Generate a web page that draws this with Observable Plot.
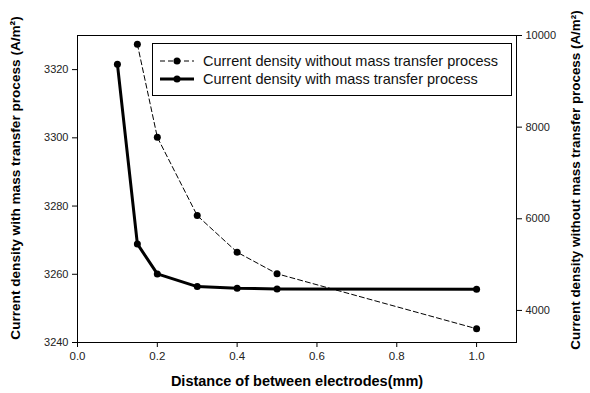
<!DOCTYPE html>
<html>
<head>
<meta charset="utf-8">
<script src="https://cdn.jsdelivr.net/npm/d3@7"></script>
<script src="https://cdn.jsdelivr.net/npm/@observablehq/plot@0.6"></script>
<style>
  body { margin: 0; background: #fff; }
  #wrap { position: relative; width: 590px; height: 393px; font-family: "Liberation Sans", Arial, sans-serif; }
  #legend { position: absolute; left: 152px; top: 43px; width: 358px; height: 51px; border: 1px solid #000; background: #fff; }
  .row { position: absolute; left: 0; height: 18px; display: flex; align-items: center; font-size: 14.5px; color: #111; white-space: nowrap; }
  .row svg { margin-left: 7px; margin-right: 9px; }
</style>
</head>
<body>
<div id="wrap"></div>
<script>
const xWith = [0.1, 0.15, 0.2, 0.3, 0.4, 0.5, 1.0];
const withMT = [3321.6, 3268.9, 3260.1, 3256.4, 3255.9, 3255.7, 3255.6];
const xWithout = [0.15, 0.2, 0.3, 0.4, 0.5, 1.0];
const withoutMT = [9810, 7780, 6070, 5270, 4800, 3600];
const leftTicks = [3240, 3260, 3280, 3300, 3320];
const rightTicks = [4000, 6000, 8000, 10000];
const xTicks = [0, 0.2, 0.4, 0.6, 0.8, 1.0];
const legendLabels = ["Current density without mass transfer process", "Current density with mass transfer process"];
const xTitle = "Distance of between electrodes(mm)";
const yLeftTitle = "Current density with mass transfer process (A/m²)";
const yRightTitle = "Current density without mass transfer process (A/m²)";

const leftDomain = [3240, 3330];
const rightDomain = [3300, 10000];
const toLeft = d3.scaleLinear(rightDomain, leftDomain);

const solid = xWith.map((x, i) => ({x, y: withMT[i]}));
const dashed = xWithout.map((x, i) => ({x, y: toLeft(withoutMT[i])}));

const font = "Liberation Sans, Arial, sans-serif";

const chart = Plot.plot({
  width: 590,
  height: 393,
  marginLeft: 77,
  marginRight: 74,
  marginTop: 35,
  marginBottom: 51,
  style: {fontFamily: font, background: "#fff"},
  x: {domain: [0, 1.1]},
  y: {domain: leftDomain},
  marks: [
    Plot.frame({stroke: "#000", strokeWidth: 1}),
    Plot.axisX(xTicks, {tickSize: 5, tickPadding: 4, fontSize: 11.5, fill: "#222", tickFormat: d3.format(".1f"), label: null}),
    Plot.axisY(leftTicks, {anchor: "left", tickSize: 5, tickPadding: 4, fontSize: 11, fill: "#222", tickFormat: d => String(d), label: null}),
    Plot.axisY(rightTicks.map(v => toLeft(v)), {anchor: "right", tickSize: 5, tickPadding: 4, fontSize: 11, fill: "#222", tickFormat: d => String(Math.round(toLeft.invert(d))), label: null}),
    Plot.line(dashed, {x: "x", y: "y", stroke: "#000", strokeWidth: 1, strokeDasharray: "5,3"}),
    Plot.dot(dashed, {x: "x", y: "y", r: 3.5, fill: "#000"}),
    Plot.line(solid, {x: "x", y: "y", stroke: "#000", strokeWidth: 3}),
    Plot.dot(solid, {x: "x", y: "y", r: 3.5, fill: "#000"}),
    Plot.text([xTitle], {frameAnchor: "bottom", textAnchor: "middle", dy: 43, fontSize: 14.5, fontWeight: "bold", fill: "#000"}),
    Plot.text([yLeftTitle], {frameAnchor: "left", textAnchor: "middle", rotate: -90, dx: -62, dy: -11, fontSize: 13.6, fontWeight: "bold", fill: "#000"}),
    Plot.text([yRightTitle], {frameAnchor: "right", textAnchor: "middle", rotate: -90, dx: 59, dy: -9, fontSize: 13.4, fontWeight: "bold", fill: "#000"})
  ]
});

const wrap = document.getElementById("wrap");
wrap.appendChild(chart);

const legend = document.createElement("div");
legend.id = "legend";
const styles = [
  {dash: "5,3", width: 1},
  {dash: null, width: 3}
];
legendLabels.forEach((label, i) => {
  const row = document.createElement("div");
  row.className = "row";
  row.style.top = (8 + i * 18) + "px";
  const s = styles[i];
  row.innerHTML = `<svg width="34" height="10"><line x1="0" y1="5" x2="34" y2="5" stroke="#000" stroke-width="${s.width}" ${s.dash ? `stroke-dasharray="${s.dash}"` : ""}/><circle cx="17" cy="5" r="3.5" fill="#000"/></svg><span>${label}</span>`;
  legend.appendChild(row);
});
wrap.appendChild(legend);
</script>
</body>
</html>
